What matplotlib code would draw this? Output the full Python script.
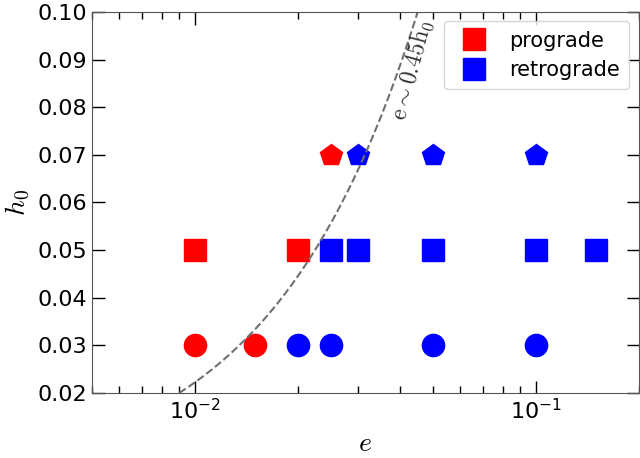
import numpy as np
import matplotlib.pyplot as plt
from matplotlib.ticker import FormatStrFormatter

plt.rcParams['mathtext.fontset'] = 'cm'

# data
e_pro_c = [0.01, 0.015]
h_pro_c = [0.03, 0.03]
e_ret_c = [0.02, 0.025, 0.05, 0.1]
h_ret_c = [0.03, 0.03, 0.03, 0.03]

e_pro_s = [0.01, 0.02]
h_pro_s = [0.05, 0.05]
e_ret_s = [0.025, 0.03, 0.05, 0.1, 0.15]
h_ret_s = [0.05, 0.05, 0.05, 0.05, 0.05]

e_pro_p = [0.025]
h_pro_p = [0.07]
e_ret_p = [0.03, 0.05, 0.1]
h_ret_p = [0.07, 0.07, 0.07]

coef = 0.45

fig = plt.figure(figsize=(6.4, 4.58), dpi=100)
ax = fig.add_axes([0.144, 0.142, 0.854, 0.832])

ms = 16
ax.plot(e_pro_c, h_pro_c, 'o', color='red', ms=ms, ls='none')
ax.plot(e_ret_c, h_ret_c, 'o', color='blue', ms=ms, ls='none')
ax.plot(e_pro_s, h_pro_s, 's', color='red', ms=ms, ls='none', label='prograde')
ax.plot(e_ret_s, h_ret_s, 's', color='blue', ms=ms, ls='none', label='retrograde')
ax.plot(e_pro_p, h_pro_p, 'p', color='red', ms=ms, ls='none')
ax.plot(e_ret_p, h_ret_p, 'p', color='blue', ms=ms, ls='none')

# dividing line
hh = np.linspace(0.02, 0.1, 200)
ax.plot(coef * hh, hh, '--', color='#707070', lw=1.5)
ax.text(0.0432, 0.0878, r'$\mathrm{e}\sim0.45\mathrm{h_0}$', rotation=75,
        fontsize=17, color='#333333', ha='center', va='center')

ax.set_xscale('log')
ax.set_xlim(0.005, 0.2)
ax.set_ylim(0.02, 0.10)
ax.set_yticks(np.arange(0.02, 0.101, 0.01))
ax.yaxis.set_major_formatter(FormatStrFormatter('%.2f'))

ax.tick_params(which='both', direction='in', top=True, right=True, labelsize=16)
ax.tick_params(which='major', length=9, width=1)
ax.tick_params(which='minor', length=5, width=1)
for s in ax.spines.values():
    s.set_color('#555555')

ax.set_xlabel(r'$e$', fontsize=20)
ax.set_ylabel(r'$h_0$', fontsize=20)

ax.legend(loc='upper right', fontsize=15, handletextpad=0.7,
          borderpad=0.45, labelspacing=0.45, borderaxespad=0.45)

fig.savefig('out.png', dpi=100)
